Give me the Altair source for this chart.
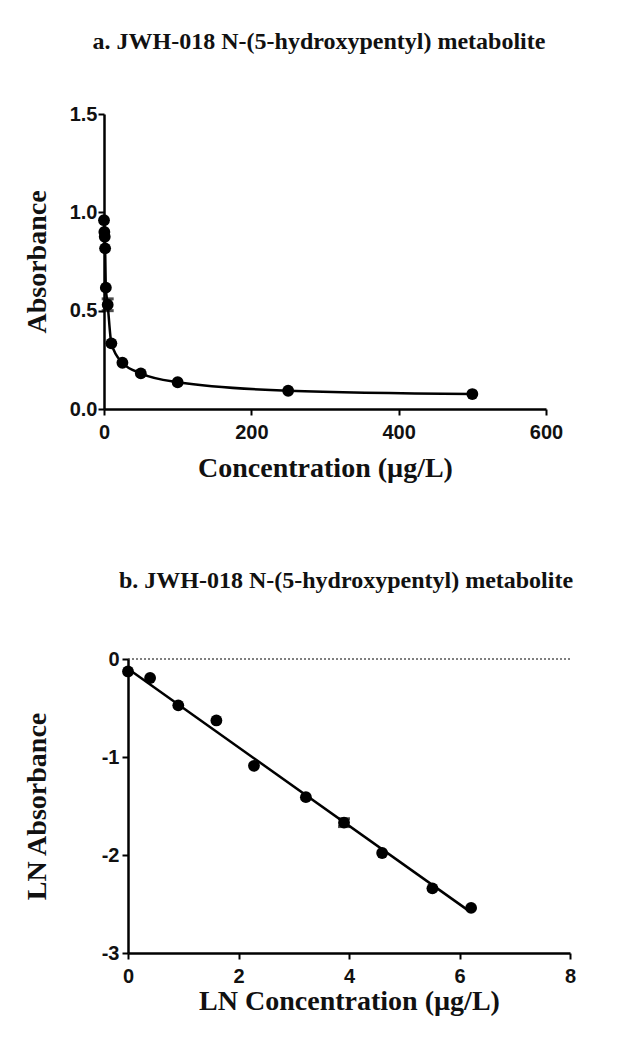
import altair as alt
import pandas as pd

# Panel a: concentration vs absorbance
conc = [0, 0.5, 1, 1.5, 2.5, 5, 10, 25, 50, 100, 250, 500]
absorb = [0.96, 0.90, 0.876, 0.817, 0.617, 0.53, 0.334, 0.235, 0.181, 0.136, 0.093, 0.076]
err_a_x = [5]
err_a_lo = [0.50]
err_a_hi = [0.56]

# Panel b: LN concentration vs LN absorbance
ln_conc = [0, 0.40, 0.91, 1.60, 2.28, 3.22, 3.91, 4.60, 5.51, 6.21]
ln_abs = [-0.127, -0.194, -0.473, -0.627, -1.09, -1.41, -1.67, -1.98, -2.34, -2.54]
err_b_x = [3.91]
err_b_lo = [-1.71]
err_b_hi = [-1.63]
fit_x = [0, 6.17]
fit_y = [-0.10, -2.57]
ref_x = [0, 8]
ref_y = [0, 0]

LABEL_FONT = "Liberation Sans"
TITLE_FONT = "Liberation Serif"
B_SHIFT = 24  # panel b sits further right than panel a

dfa = pd.DataFrame({"x": conc, "y": absorb})
dfa_err = pd.DataFrame({"x": err_a_x, "lo": err_a_lo, "hi": err_a_hi})
dfb = pd.DataFrame({"x": ln_conc, "y": ln_abs})
dfb_err = pd.DataFrame({"x": err_b_x, "lo": err_b_lo, "hi": err_b_hi})
dfb_fit = pd.DataFrame({"x": fit_x, "y": fit_y})
dfb_ref = pd.DataFrame({"x": ref_x, "y": ref_y})


def axis_common(**kw):
    return alt.Axis(
        grid=False, domainColor="black", domainWidth=2.5, tickColor="black",
        tickWidth=2, tickSize=6, labelFont=LABEL_FONT, labelFontWeight="bold",
        labelFontSize=20, labelColor="#111", labelFlush=False, titleFont=TITLE_FONT,
        titleFontWeight="bold", titleFontSize=28, titleColor="#111", **kw)


# ---------- Panel a ----------
xa = alt.X("x:Q", scale=alt.Scale(domain=[0, 600], nice=False),
           axis=axis_common(values=[0, 200, 400, 600], format="d", title="Concentration (µg/L)",
                            titlePadding=12, labelPadding=7))
ya = alt.Y("y:Q", scale=alt.Scale(domain=[0, 1.5], nice=False),
           axis=axis_common(values=[0, 0.5, 1.0, 1.5], format=".1f", title="Absorbance",
                            titlePadding=18, labelPadding=1))

line_a = alt.Chart(dfa).mark_line(color="black", strokeWidth=2.5, interpolate="monotone").encode(x=xa, y=ya)
pts_a = alt.Chart(dfa).mark_circle(color="black", opacity=1, size=140).encode(x="x:Q", y="y:Q")
err_a = alt.Chart(dfa_err).mark_rule(color="black", strokeWidth=2).encode(x="x:Q", y="lo:Q", y2="hi:Q")
cap_a_lo = alt.Chart(dfa_err).mark_tick(color="black", thickness=3, size=12, orient="horizontal").encode(x="x:Q", y="lo:Q")
cap_a_hi = alt.Chart(dfa_err).mark_tick(color="black", thickness=3, size=12, orient="horizontal").encode(x="x:Q", y="hi:Q")

panel_a = alt.layer(line_a, err_a, cap_a_lo, cap_a_hi, pts_a).properties(
    width=442, height=295,
    title=alt.TitleParams("a. JWH-018 N-(5-hydroxypentyl) metabolite", font=TITLE_FONT,
                          fontSize=24, fontWeight="bold", color="#111", offset=50,
                          anchor="middle", dx=-6))

# ---------- Panel b ----------
xb = alt.X("x:Q", scale=alt.Scale(domain=[0, 8], nice=False, range=[B_SHIFT, 442 + B_SHIFT]),
           axis=axis_common(values=[0, 2, 4, 6, 8], format="d", title="LN Concentration (µg/L)",
                            titlePadding=1, labelPadding=7))
yb = alt.Y("y:Q", scale=alt.Scale(domain=[-3, 0], nice=False),
           axis=axis_common(values=[-3, -2, -1, 0], labelExpr="'' + datum.value", title="LN Absorbance",
                            titlePadding=50, labelPadding=3, offset=-B_SHIFT))

ref_b = alt.Chart(dfb_ref).mark_line(color="black", strokeWidth=1, strokeDash=[2, 2]).encode(x=xb, y=yb)
fit_b = alt.Chart(dfb_fit).mark_line(color="black", strokeWidth=2.5).encode(x="x:Q", y="y:Q")
err_b = alt.Chart(dfb_err).mark_rule(color="black", strokeWidth=2).encode(x="x:Q", y="lo:Q", y2="hi:Q")
cap_b_hi = alt.Chart(dfb_err).mark_tick(color="black", thickness=3, size=12, orient="horizontal").encode(x="x:Q", y="hi:Q")
cap_b_lo = alt.Chart(dfb_err).mark_tick(color="black", thickness=3, size=12, orient="horizontal").encode(x="x:Q", y="lo:Q")
pts_b = alt.Chart(dfb).mark_circle(color="black", opacity=1, size=140).encode(x="x:Q", y="y:Q")

panel_b = alt.layer(ref_b, fit_b, err_b, cap_b_lo, cap_b_hi, pts_b).properties(
    width=442 + B_SHIFT, height=294,
    title=alt.TitleParams("b. JWH-018 N-(5-hydroxypentyl) metabolite", font=TITLE_FONT,
                          fontSize=24, fontWeight="bold", color="#111", offset=56,
                          anchor="middle", dx=9))

chart = alt.vconcat(panel_a, panel_b, spacing=87).configure(
    background="white", padding={"left": 15, "top": 22, "right": 5, "bottom": 5}
).configure_view(stroke=None)

chart.save("out.html", embed_options={"renderer": "svg", "actions": False})
